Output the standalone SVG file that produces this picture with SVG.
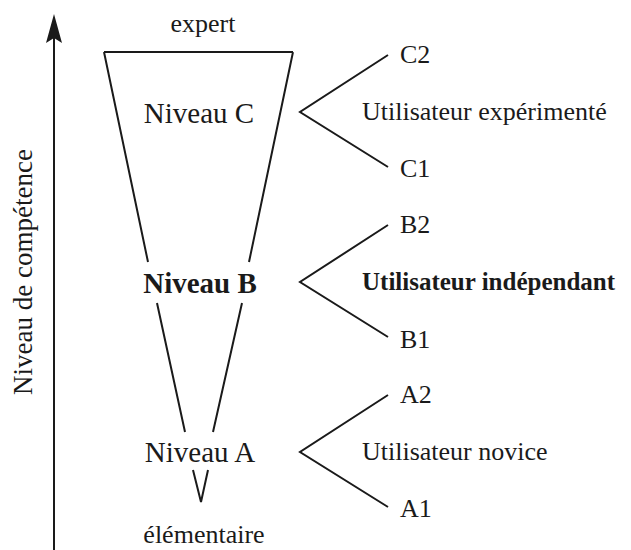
<svg xmlns="http://www.w3.org/2000/svg" width="631" height="550" viewBox="0 0 631 550">
<defs>
<style>
text{font-family:"Liberation Serif","Times New Roman",serif;fill:#1a1a1a}
.lvl{font-size:29px;text-anchor:middle}
.b{font-weight:bold}
.lab{font-size:26px}
.sub{font-size:26px}
.ln{stroke:#1a1a1a;stroke-width:2;fill:none}
</style>
</defs>
<rect width="631" height="550" fill="#fff"/>
<g id="axis">
<line x1="54" y1="36" x2="54" y2="550" class="ln"/>
<path d="M54 14 L62 43 L54 38 L46 43 Z" fill="#1a1a1a"/>
<text transform="translate(32,272) rotate(-90)" text-anchor="middle" style="font-size:27px">Niveau de compétence</text>
</g>
<g id="connectors">
<path class="ln" d="M104 52 L293 52 M104 52 L148 262 M293 52 L249 262"/>
<path class="ln" d="M157 303 L185 432 M242 303 L213 432"/>
<path class="ln" d="M193 470 L201 502 L208 470"/>
<path class="ln" d="M388 55 L300 112 L388 167"/>
<path class="ln" d="M388 225 L300 282 L388 337"/>
<path class="ln" d="M388 395 L300 452 L388 507"/>
</g>
<g id="expert"><text x="203" y="32" class="sub" text-anchor="middle">expert</text></g>
<g id="niveauC"><text x="199" y="123" class="lvl">Niveau C</text></g>
<g id="niveauB"><text x="200" y="293" class="lvl b">Niveau B</text></g>
<g id="niveauA"><text x="200" y="462" class="lvl">Niveau A</text></g>
<g id="elementaire"><text x="204" y="543" class="sub" text-anchor="middle">élémentaire</text></g>
<g id="C2"><text x="400" y="63" class="sub">C2</text></g>
<g id="C"><text x="362" y="120" class="lab">Utilisateur expérimenté</text></g>
<g id="C1"><text x="400" y="177" class="sub">C1</text></g>
<g id="B2"><text x="400" y="233" class="sub">B2</text></g>
<g id="B"><text x="362" y="290" class="lab b" style="font-size:25px">Utilisateur indépendant</text></g>
<g id="B1"><text x="400" y="348" class="sub">B1</text></g>
<g id="A2"><text x="400" y="403" class="sub">A2</text></g>
<g id="A"><text x="362" y="460" class="lab">Utilisateur novice</text></g>
<g id="A1"><text x="400" y="517" class="sub">A1</text></g>
</svg>
